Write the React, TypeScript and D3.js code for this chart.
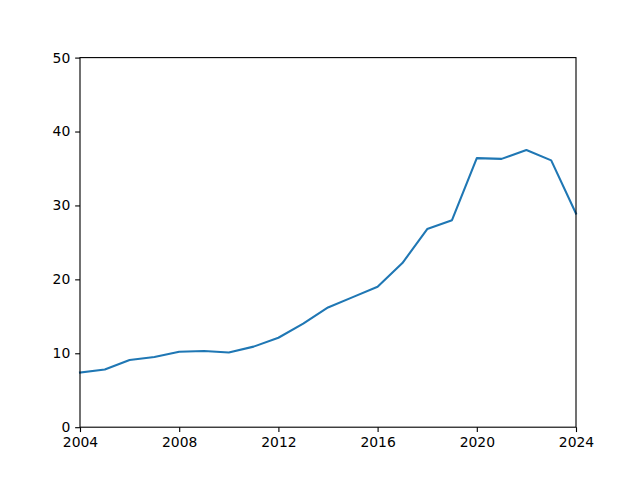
// @ts-nocheck
import React, { useEffect, useRef } from "react";
import * as d3 from "d3";

const years = [
  2004, 2005, 2006, 2007, 2008, 2009, 2010, 2011, 2012, 2013, 2014,
  2015, 2016, 2017, 2018, 2019, 2020, 2021, 2022, 2023, 2024,
];
const values = [
  7.4, 7.8, 9.1, 9.5, 10.2, 10.3, 10.1, 10.9, 12.1, 14.0, 16.2,
  17.6, 19.0, 22.2, 26.8, 28.0, 36.4, 36.3, 37.5, 36.1, 28.9,
];
const xTicks = [2004, 2008, 2012, 2016, 2020, 2024];
const yTicks = [0, 10, 20, 30, 40, 50];

function drawChart(node) {
  const width = 640;
  const height = 480;
  const marginLeft = 80;
  const marginRight = 64;
  const marginTop = 57.6;
  const marginBottom = 52.8;
  const tickSize = 4.86;

  const x = d3.scaleLinear([2004, 2024], [marginLeft, width - marginRight]);
  const y = d3.scaleLinear([0, 50], [height - marginBottom, marginTop]);

  const svg = d3
    .select(node)
    .attr("width", width)
    .attr("height", height)
    .attr("viewBox", [0, 0, width, height])
    .style("display", "block")
    .style("font-family", "DejaVu Sans");

  svg.selectAll("*").remove();

  svg.append("rect").attr("width", width).attr("height", height).attr("fill", "white");

  // the line
  const line = d3
    .line()
    .x((d, i) => x(years[i]))
    .y((d) => y(d));

  svg
    .append("path")
    .datum(values)
    .attr("fill", "none")
    .attr("stroke", "#1f77b4")
    .attr("stroke-width", 2.08)
    .attr("stroke-linejoin", "round")
    .attr("stroke-linecap", "square")
    .attr("d", line);

  const xAxis = d3
    .axisBottom(x)
    .tickValues(xTicks)
    .tickFormat(d3.format("d"))
    .tickSize(tickSize)
    .tickSizeOuter(0)
    .tickPadding(4.86);

  const yAxis = d3
    .axisLeft(y)
    .tickValues(yTicks)
    .tickFormat(d3.format("d"))
    .tickSize(tickSize)
    .tickSizeOuter(0)
    .tickPadding(4.86);

  const styleAxis = (g) => {
    g.attr("font-family", "DejaVu Sans").attr("font-size", 13.9);
    g.select(".domain").remove();
    g.selectAll(".tick line").attr("stroke", "black").attr("stroke-width", 1.11);
    g.selectAll(".tick text").attr("fill", "black");
  };

  svg
    .append("g")
    .attr("transform", `translate(0,${height - marginBottom})`)
    .call(xAxis)
    .call(styleAxis);

  svg
    .append("g")
    .attr("transform", `translate(${marginLeft},0)`)
    .call(yAxis)
    .call(styleAxis);

  // frame (spines)
  svg
    .append("rect")
    .attr("x", marginLeft)
    .attr("y", marginTop)
    .attr("width", width - marginLeft - marginRight)
    .attr("height", height - marginTop - marginBottom)
    .attr("fill", "none")
    .attr("stroke", "black")
    .attr("stroke-width", 1.11);
}

export default function App() {
  const ref = useRef(null);

  useEffect(() => {
    document.body.style.margin = "0";
    if (!ref.current) return;
    drawChart(ref.current);
  }, []);

  return <svg ref={ref} />;
}
